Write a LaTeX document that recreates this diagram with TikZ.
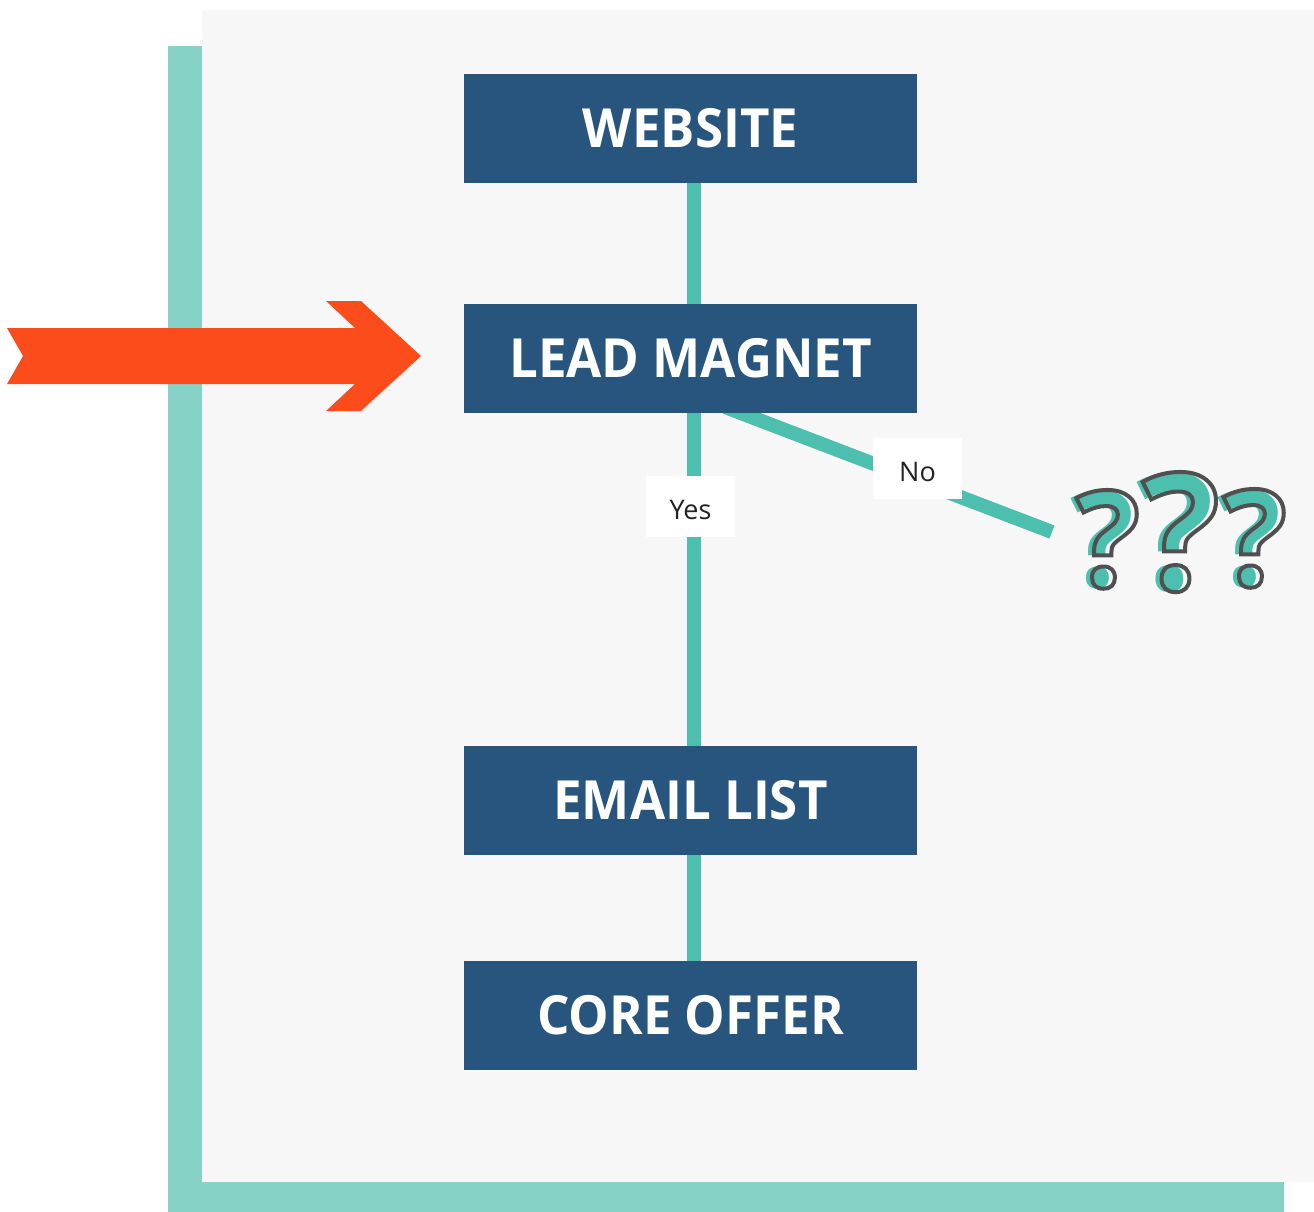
\documentclass[tikz,border=0pt]{standalone}
\usepackage{fontspec}
\setmainfont{Open Sans}
\newfontfamily\boxfont[FakeStretch=0.945]{Open Sans}
\definecolor{boxblue}{HTML}{27557D}
\definecolor{lineteal}{HTML}{4DBFAE}
\definecolor{frameteal}{HTML}{86D2C7}
\definecolor{panelgray}{HTML}{F7F7F7}
\definecolor{arroworange}{HTML}{FC4C1B}
\definecolor{qgray}{HTML}{505050}
\definecolor{lbltext}{HTML}{222222}
\newcommand\outlinetext[1]{\special{pdf:literal direct 1 Tr 4 w 0.314 0.314 0.314 RG}#1\special{pdf:literal direct 0 Tr}}
\tikzset{
  stepbox/.style={fill=boxblue, text=white, minimum width=453pt, minimum height=109pt,
    inner sep=0pt, font=\fontsize{54}{60}\boxfont\bfseries},
  conn/.style={draw=lineteal, line width=14pt},
  lbl/.style={fill=white, text=lbltext, minimum width=89pt, minimum height=61pt,
    inner sep=0pt, text height=25pt, text depth=0pt, font=\fontsize{27}{30}\selectfont},
  qshadow/.style={text=lineteal, anchor=base, inner sep=0pt},
  qmark/.style={text=qgray, anchor=base, inner sep=0pt},
}
\begin{document}
\begin{tikzpicture}[x=1pt,y=-1pt]
\useasboundingbox (0,0) rectangle (1314,1212);
\fill[white] (0,0) rectangle (1314,1212);
% frame and panel
\fill[frameteal] (168,46) rectangle (1284,1212);
\fill[panelgray] (202,10) rectangle (1314,1182);
% orange arrow
\fill[arroworange] (7,328) -- (355,328) -- (326,301) -- (361,301) -- (421,356)
  -- (361,411) -- (326,411) -- (355,384) -- (7,384) -- (23,356) -- cycle;
% box positions
\coordinate (webc) at (690.5,128.5);
\coordinate (leadc) at (690.5,358.5);
\coordinate (emailc) at (690.5,800.5);
\coordinate (corec) at (690.5,1015.5);
\coordinate (nostart) at (725,407);
\coordinate (qend) at (1052,532);
% connectors (behind boxes)
\draw[conn] ([xshift=3.5pt]webc) -- ([xshift=3.5pt]leadc);
\draw[conn] ([xshift=3.5pt]leadc) -- ([xshift=3.5pt]emailc);
\draw[conn] ([xshift=3.5pt]emailc) -- ([xshift=3.5pt]corec);
\draw[conn] (nostart) -- (qend);
% boxes
\node[stepbox] (web) at (webc) {WEBSITE};
\node[stepbox] (lead) at (leadc) {LEAD MAGNET};
\node[stepbox] (email) at (emailc) {EMAIL LIST};
\node[stepbox] (core) at (corec) {CORE OFFER};
% labels
\node[lbl] (yes) at (690.5,506.5) {Yes};
\node[lbl] (no) at (917.5,468.5) {No};
% question marks
\node[qshadow, font=\fontsize{134}{140}\selectfont\bfseries] (q1s) at (1102,587) {?};
\node[qshadow, font=\fontsize{163}{170}\selectfont\bfseries] (q2s) at (1175,590) {?};
\node[qshadow, font=\fontsize{134}{140}\selectfont\bfseries] (q3s) at (1249,586) {?};
\node[qmark, font=\fontsize{134}{140}\selectfont\bfseries] (q1) at (1108,587) {\outlinetext{?}};
\node[qmark, font=\fontsize{163}{170}\selectfont\bfseries] (q2) at (1181,590) {\outlinetext{?}};
\node[qmark, font=\fontsize{134}{140}\selectfont\bfseries] (q3) at (1255,586) {\outlinetext{?}};
\end{tikzpicture}
\end{document}
